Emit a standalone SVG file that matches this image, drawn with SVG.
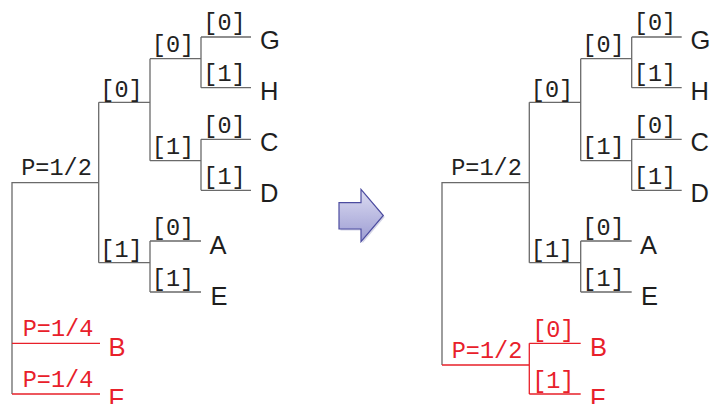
<svg xmlns="http://www.w3.org/2000/svg" width="710" height="404" viewBox="0 0 710 404">
<defs>
<style>
.ln{fill:none;stroke:#6a6a6a;stroke-width:1.3}
.rd{fill:none;stroke:#e8202a;stroke-width:1.3}
.m{font-family:"Liberation Mono","DejaVu Sans Mono",monospace;font-size:23.5px;fill:#222;text-anchor:middle}
.l{font-family:"Liberation Sans",Arial,sans-serif;font-size:25.5px;fill:#1e1e1e}
.r{fill:#e8202a}
</style>
<linearGradient id="ag" x1="0" y1="0" x2="0" y2="1">
<stop offset="0" stop-color="#dcdcf2"/>
<stop offset="1" stop-color="#9c9cd2"/>
</linearGradient>
</defs>
<rect width="710" height="404" fill="#fff"/>
<g id="connectors">
<path class="ln" d="M12,394V182.7H98.7M98.7,102.3V262.7M98.7,102.3H150M150,58.7V160.7M150,58.7H201M201,37V87.7M201,37H251M201,87.7H251M150,160.7H201M201,139.3V190.3M201,139.3H251M201,190.3H251M98.7,262.7H150M150,241V292M150,241H201M150,292H201"/>
<path class="rd" d="M12,343.3H100M12,394H100"/>
<path class="ln" d="M442,365V182.7H529.3M529.3,102.3V262.7M529.3,102.3H580.7M580.7,58.7V160.7M580.7,58.7H631.7M631.7,37V87.7M631.7,37H681.7M631.7,87.7H681.7M580.7,160.7H631.7M631.7,139.3V190.3M631.7,139.3H681.7M631.7,190.3H681.7M529.3,262.7H580.7M580.7,241V292M580.7,241H631.7M580.7,292H631.7"/>
<path class="rd" d="M442,365H529.3M529.3,343.3V394M529.3,343.3H580.7M529.3,394H580.7"/>
</g>
<g id="left-tree">
<text class="m" x="56.5" y="175">P=1/2</text>
<text class="m" x="121.5" y="97">[0]</text>
<text class="m" x="173" y="52">[0]</text>
<text class="m" x="224.5" y="30">[0]</text>
<text class="m" x="224.5" y="81">[1]</text>
<text class="m" x="173" y="153.5">[1]</text>
<text class="m" x="224.5" y="132.5">[0]</text>
<text class="m" x="224.5" y="183.5">[1]</text>
<text class="m" x="121.5" y="257">[1]</text>
<text class="m" x="173" y="234.5">[0]</text>
<text class="m" x="173" y="286">[1]</text>
<text class="m r" x="58" y="336">P=1/4</text>
<text class="m r" x="58" y="386.7">P=1/4</text>
<text class="l" x="260" y="49">G</text>
<text class="l" x="260" y="100">H</text>
<text class="l" x="260" y="151">C</text>
<text class="l" x="260" y="202">D</text>
<text class="l" x="209.5" y="253.5">A</text>
<text class="l" x="210.5" y="304.5">E</text>
<text class="l r" x="108.5" y="356">B</text>
<text class="l r" x="108.5" y="407">F</text>
</g>
<g id="arrow">
<path d="M339,202.7H361V189.3L383.3,215.5L361,241.7V229H339Z" fill="#8888b8" opacity="0.35" transform="translate(1.5,1.5)"/>
<path d="M339,202.7H361V189.3L383.3,215.5L361,241.7V229H339Z" fill="url(#ag)" stroke="#4c4ca0" stroke-width="1.2"/>
</g>
<g id="right-tree">
<text class="m" x="486.5" y="175">P=1/2</text>
<text class="m" x="552" y="97">[0]</text>
<text class="m" x="603.5" y="52">[0]</text>
<text class="m" x="655" y="30">[0]</text>
<text class="m" x="655" y="81">[1]</text>
<text class="m" x="603.5" y="153.5">[1]</text>
<text class="m" x="655" y="132.5">[0]</text>
<text class="m" x="655" y="183.5">[1]</text>
<text class="m" x="552" y="257">[1]</text>
<text class="m" x="603.5" y="234.5">[0]</text>
<text class="m" x="603.5" y="286">[1]</text>
<text class="m r" x="487" y="357.5">P=1/2</text>
<text class="m r" x="553.3" y="337">[0]</text>
<text class="m r" x="553.3" y="387.7">[1]</text>
<text class="l" x="690.5" y="49">G</text>
<text class="l" x="690.5" y="100">H</text>
<text class="l" x="690.5" y="151">C</text>
<text class="l" x="690.5" y="202">D</text>
<text class="l" x="640" y="253.5">A</text>
<text class="l" x="641" y="304.5">E</text>
<text class="l r" x="590" y="356">B</text>
<text class="l r" x="590" y="407">F</text>
</g>
</svg>
